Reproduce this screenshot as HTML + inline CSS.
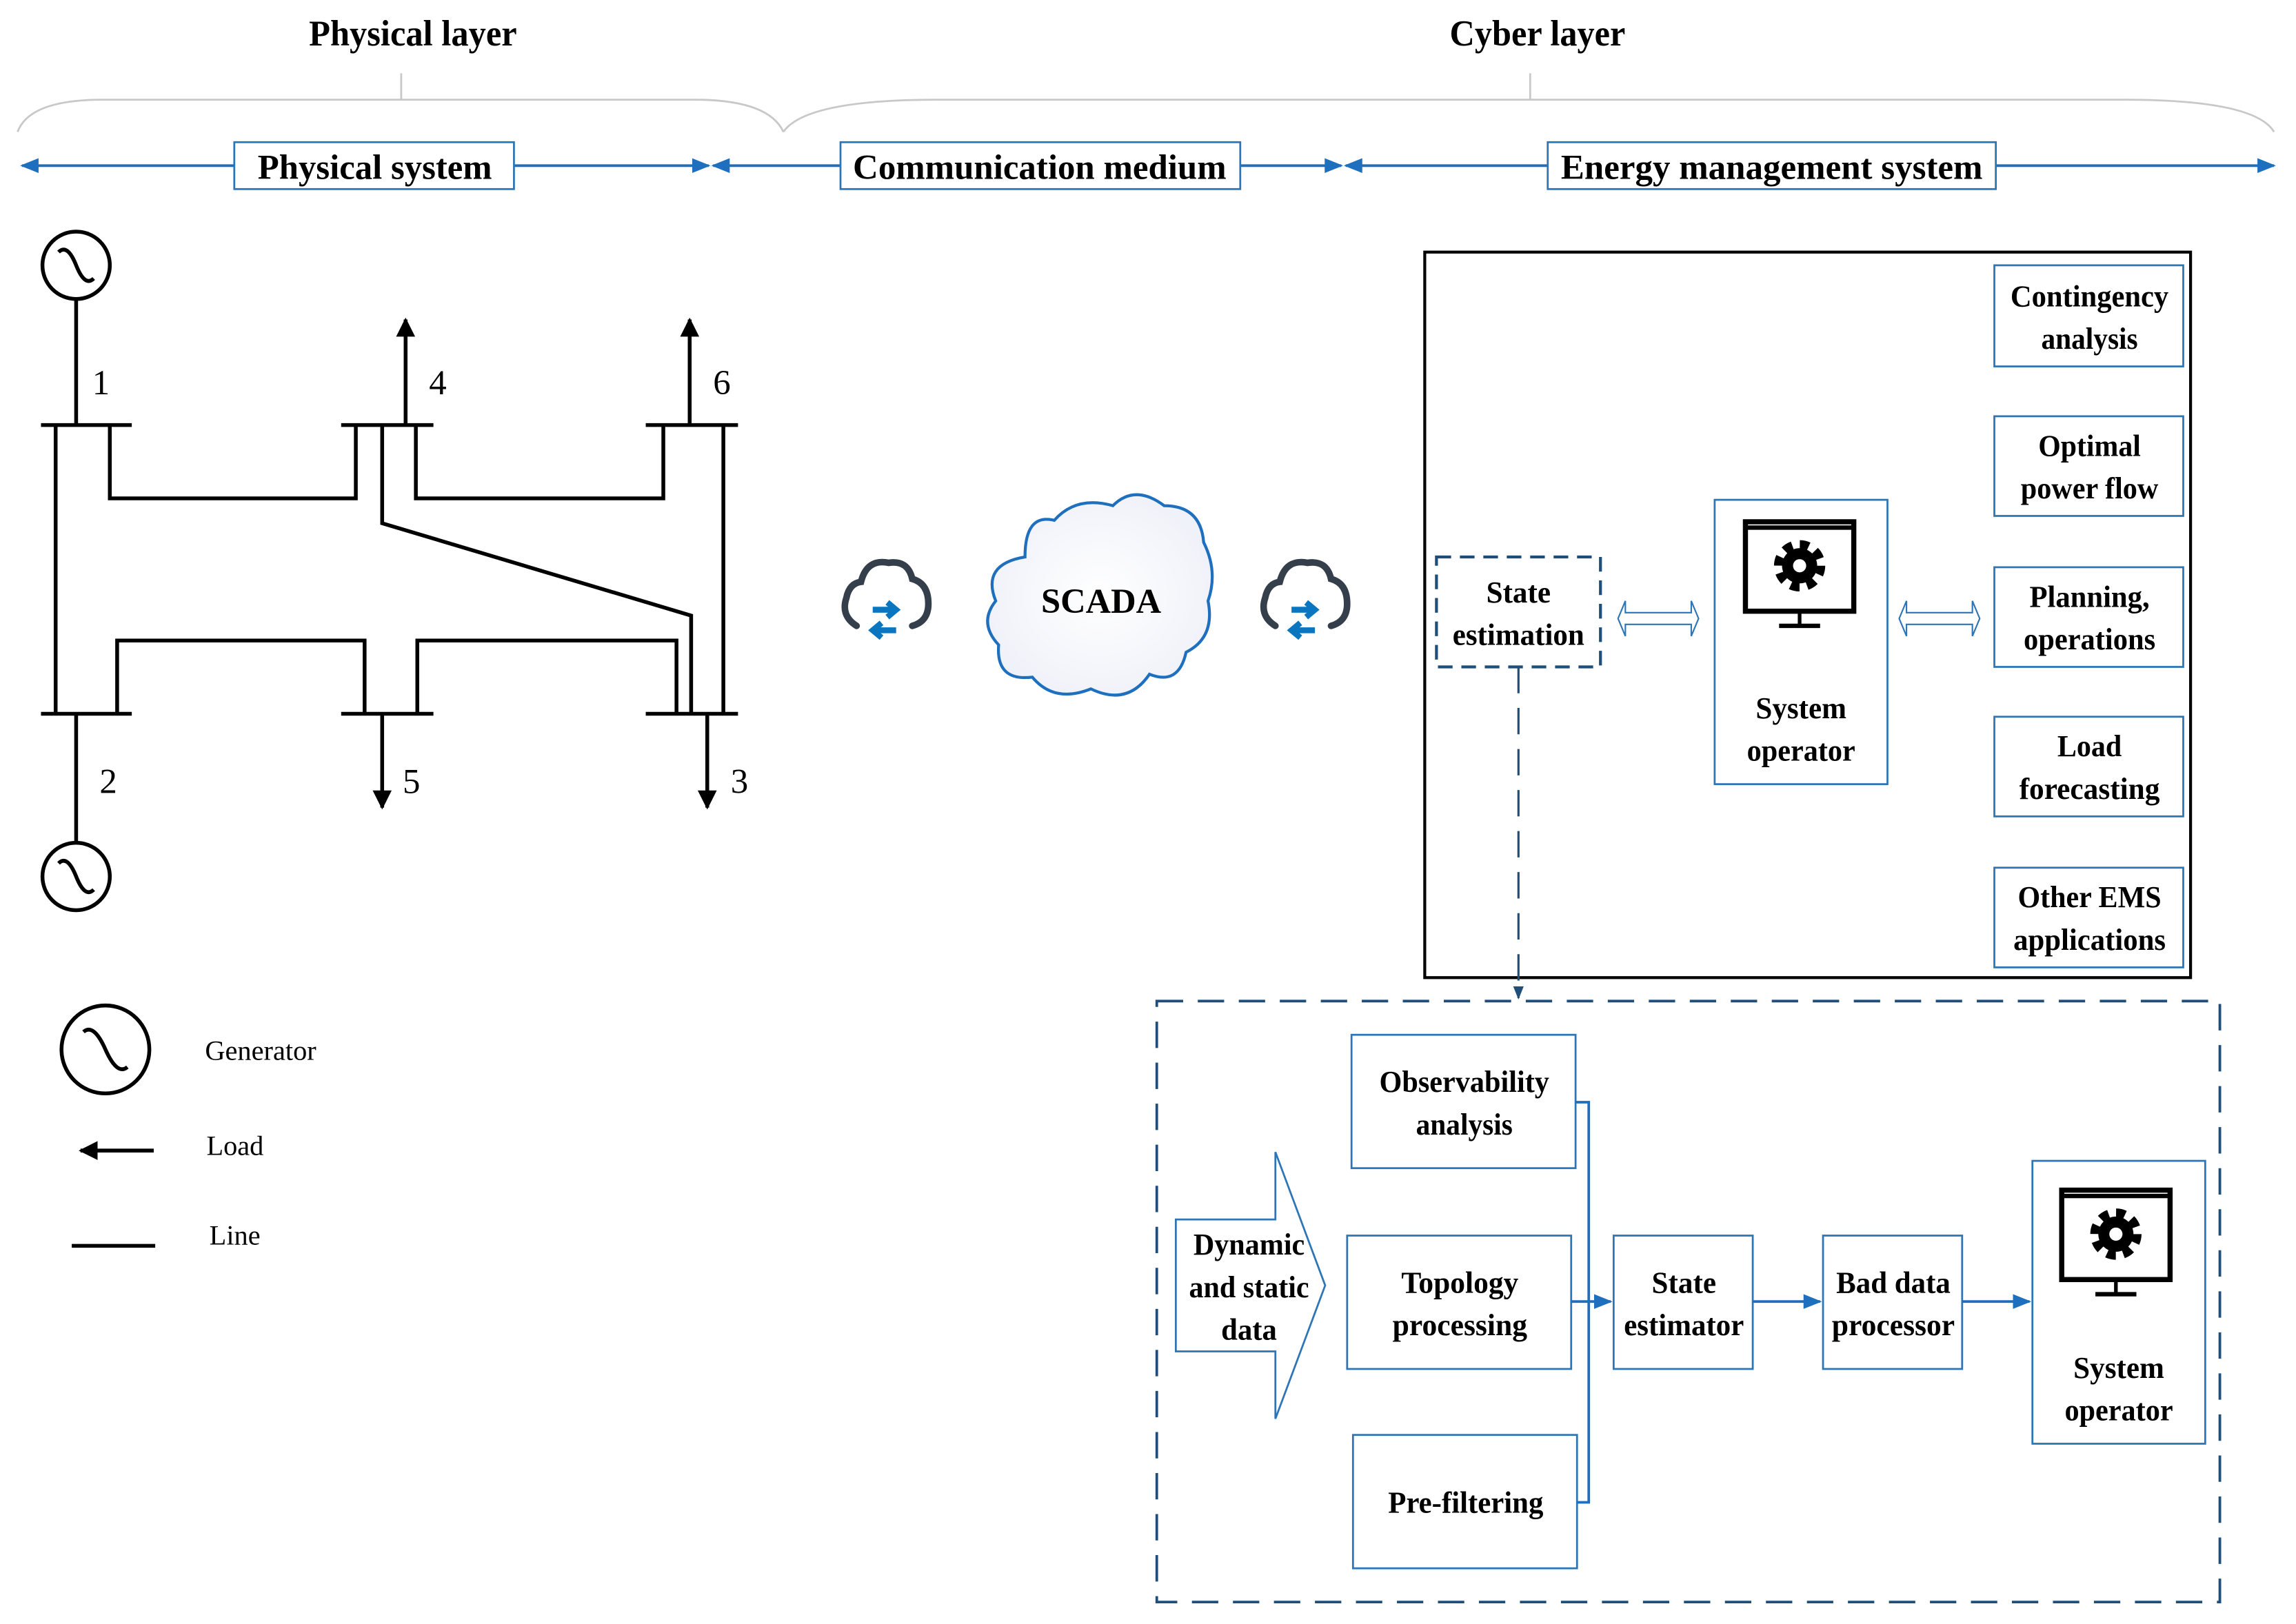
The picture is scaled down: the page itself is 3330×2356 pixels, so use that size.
<!DOCTYPE html>
<html><head><meta charset="utf-8"><style>html,body{margin:0;padding:0;background:#fff}svg{display:block}</style></head><body>
<svg width="3330" height="2356" viewBox="0 0 1568 1108" preserveAspectRatio="none" xmlns="http://www.w3.org/2000/svg" font-family="'Liberation Serif', serif">
<defs>
<marker id="ab" viewBox="0 0 10 10" refX="9" refY="5" markerWidth="7" markerHeight="7" orient="auto-start-reverse"><path d="M0,1 L10,5 L0,9 z" fill="#1f6fbf"/></marker>
<marker id="ak" viewBox="0 0 10 10" refX="9" refY="5" markerWidth="5" markerHeight="5" orient="auto-start-reverse"><path d="M0,0 L10,5 L0,10 z" fill="#000"/></marker>
<marker id="ad" viewBox="0 0 10 10" refX="9" refY="5" markerWidth="6" markerHeight="6" orient="auto"><path d="M0,1 L10,5 L0,9 z" fill="#1f4e79"/></marker>
<radialGradient id="cg" cx="0.5" cy="0.5" r="0.6"><stop offset="0" stop-color="#fff"/><stop offset="1" stop-color="#eef0f8"/></radialGradient>
</defs>
<g font-size="25" font-weight="bold" text-anchor="middle">
<text x="282" y="31" textLength="142" lengthAdjust="spacingAndGlyphs">Physical layer</text>
<text x="1050" y="31" textLength="120" lengthAdjust="spacingAndGlyphs">Cyber layer</text>
</g>
<g fill="none" stroke="#c8c8c8" stroke-width="1.3">
<path d="M12,90 Q20,68 70,68 L474,68 Q525,68 535,90"/>
<path d="M535,90 Q550,68 640,68 L1450,68 Q1540,68 1553,90"/>
<line x1="274" y1="50" x2="274" y2="68"/>
<line x1="1045" y1="50" x2="1045" y2="68"/>
</g>
<g stroke="#1f6fbf" stroke-width="1.8" fill="none">
<line x1="15" y1="113" x2="484" y2="113" marker-start="url(#ab)" marker-end="url(#ab)"/>
<line x1="487" y1="113" x2="916" y2="113" marker-start="url(#ab)" marker-end="url(#ab)"/>
<line x1="919" y1="113" x2="1553" y2="113" marker-start="url(#ab)" marker-end="url(#ab)"/>
</g>
<g fill="#fff" stroke="#2e75b6" stroke-width="1.3">
<rect x="160" y="97" width="191" height="32"/>
<rect x="574" y="97" width="273" height="32"/>
<rect x="1057" y="97" width="306" height="32"/>
</g>
<g font-size="24" font-weight="bold" text-anchor="middle">
<text x="256" y="122" textLength="160" lengthAdjust="spacingAndGlyphs">Physical system</text>
<text x="710" y="122" textLength="255" lengthAdjust="spacingAndGlyphs">Communication medium</text>
<text x="1210" y="122" textLength="288" lengthAdjust="spacingAndGlyphs">Energy management system</text>
</g>
<g stroke="#000" stroke-width="2.6" fill="none">
<circle cx="52" cy="181" r="23"/>
<path d="M40,172 Q46,166 52,181 Q58,196 64,190"/>
<line x1="52" y1="204" x2="52" y2="290"/>
<circle cx="52" cy="598" r="23"/>
<path d="M40,589 Q46,583 52,598 Q58,613 64,607"/>
<line x1="52" y1="487" x2="52" y2="575"/>
<line x1="28" y1="290" x2="90" y2="290"/>
<line x1="233" y1="290" x2="296" y2="290"/>
<line x1="441" y1="290" x2="504" y2="290"/>
<line x1="28" y1="487" x2="90" y2="487"/>
<line x1="233" y1="487" x2="296" y2="487"/>
<line x1="441" y1="487" x2="504" y2="487"/>
<line x1="38" y1="290" x2="38" y2="487"/>
<polyline points="75,290 75,340 243,340 243,290"/>
<polyline points="284,290 284,340 453,340 453,290"/>
<polyline points="261,290 261,357 472,420 472,487"/>
<line x1="494" y1="290" x2="494" y2="487"/>
<polyline points="80,487 80,437 249,437 249,487"/>
<polyline points="285,487 285,437 462,437 462,487"/>
<line x1="277" y1="290" x2="277" y2="218" marker-end="url(#ak)"/>
<line x1="471" y1="290" x2="471" y2="218" marker-end="url(#ak)"/>
<line x1="261" y1="487" x2="261" y2="551" marker-end="url(#ak)"/>
<line x1="483" y1="487" x2="483" y2="551" marker-end="url(#ak)"/>
<circle cx="72" cy="716" r="30"/>
<path d="M57,704 Q64,698 72,716 Q80,734 87,728"/>
<line x1="105" y1="785" x2="55" y2="785" marker-end="url(#ak)"/>
<line x1="49" y1="850" x2="106" y2="850"/>
</g>
<g font-size="24">
<text x="63" y="269">1</text><text x="68" y="541">2</text><text x="293" y="269">4</text><text x="487" y="269">6</text>
<text x="275" y="541">5</text><text x="499" y="541">3</text>
</g>
<g font-size="19">
<text x="140" y="723" textLength="76" lengthAdjust="spacingAndGlyphs">Generator</text><text x="141" y="788">Load</text><text x="143" y="849">Line</text>
</g>
<g stroke="#1f6fbf" stroke-width="2" fill="url(#cg)">
<path d="M700,380 Q700,350 720,355 Q735,338 760,345 Q775,330 795,345 Q820,345 822,370 Q832,390 825,410 Q830,435 810,445 Q805,468 785,460 Q770,482 745,470 Q720,480 705,462 Q680,465 682,440 Q668,425 680,410 Q670,385 700,380 z"/>
</g>
<text x="752" y="418" font-size="24" font-weight="bold" text-anchor="middle" textLength="82" lengthAdjust="spacingAndGlyphs">SCADA</text>
<g>
<path d="M585,427 Q574,420 578,408 Q580,398 588,397 Q592,381 607,384 Q620,382 623,395 Q634,398 634,412 Q634,424 623,427" fill="none" stroke="#343f4b" stroke-width="4.5" stroke-linecap="round"/>
<path d="M596,416 L610,416 M606,411 L612,416 L606,421" stroke="#0b76c0" stroke-width="4" fill="none"/>
<path d="M612,430 L598,430 M602,425 L596,430 L602,435" stroke="#0b76c0" stroke-width="4" fill="none"/>
<path d="M871,427 Q860,420 864,408 Q866,398 874,397 Q878,381 893,384 Q906,382 909,395 Q920,398 920,412 Q920,424 909,427" fill="none" stroke="#343f4b" stroke-width="4.5" stroke-linecap="round"/>
<path d="M882,416 L896,416 M892,411 L898,416 L892,421" stroke="#0b76c0" stroke-width="4" fill="none"/>
<path d="M898,430 L884,430 M888,425 L882,430 L888,435" stroke="#0b76c0" stroke-width="4" fill="none"/>
</g>
<rect x="973" y="172" width="523" height="495" fill="none" stroke="#000" stroke-width="2"/>
<g fill="#fff" stroke="#2e75b6" stroke-width="1.3">
<rect x="1362" y="181" width="129" height="69"/>
<rect x="1362" y="284" width="129" height="68"/>
<rect x="1362" y="387" width="129" height="68"/>
<rect x="1362" y="489" width="129" height="68"/>
<rect x="1362" y="592" width="129" height="68"/>
<rect x="1171" y="341" width="118" height="194"/>
</g>
<rect x="981" y="380" width="112" height="75" fill="none" stroke="#1f4e79" stroke-width="2" stroke-dasharray="10,6"/>
<line x1="1037" y1="455" x2="1037" y2="681" stroke="#1f4e79" stroke-width="1.5" stroke-dasharray="18,10" marker-end="url(#ad)"/>
<g fill="#fff" stroke="#2e75b6" stroke-width="1">
<path d="M1105,422 L1110,410 L1110,418 L1155,418 L1155,410 L1160,422 L1155,434 L1155,426 L1110,426 L1110,434 z"/>
<path d="M1297,422 L1302,410 L1302,418 L1347,418 L1347,410 L1352,422 L1347,434 L1347,426 L1302,426 L1302,434 z"/>
</g>
<g font-size="21" text-anchor="middle" font-weight="bold">
<text x="1427" y="209" textLength="108" lengthAdjust="spacingAndGlyphs">Contingency</text><text x="1427" y="238" textLength="66" lengthAdjust="spacingAndGlyphs">analysis</text>
<text x="1427" y="311" textLength="70" lengthAdjust="spacingAndGlyphs">Optimal</text><text x="1427" y="340" textLength="94" lengthAdjust="spacingAndGlyphs">power flow</text>
<text x="1427" y="414" textLength="82" lengthAdjust="spacingAndGlyphs">Planning,</text><text x="1427" y="443" textLength="90" lengthAdjust="spacingAndGlyphs">operations</text>
<text x="1427" y="516" textLength="44" lengthAdjust="spacingAndGlyphs">Load</text><text x="1427" y="545" textLength="96" lengthAdjust="spacingAndGlyphs">forecasting</text>
<text x="1427" y="619" textLength="98" lengthAdjust="spacingAndGlyphs">Other EMS</text><text x="1427" y="648" textLength="104" lengthAdjust="spacingAndGlyphs">applications</text>
<text x="1037" y="411" textLength="44" lengthAdjust="spacingAndGlyphs">State</text><text x="1037" y="440" textLength="90" lengthAdjust="spacingAndGlyphs">estimation</text>
<text x="1230" y="490" textLength="62" lengthAdjust="spacingAndGlyphs">System</text><text x="1230" y="519" textLength="74" lengthAdjust="spacingAndGlyphs">operator</text>
</g>
<g>
<rect x="1192" y="356" width="74" height="61" fill="#fff" stroke="#000" stroke-width="3.5"/>
<line x1="1192" y1="360" x2="1266" y2="360" stroke="#000" stroke-width="3"/>
<line x1="1229" y1="417" x2="1229" y2="426" stroke="#000" stroke-width="2.5"/>
<line x1="1215" y1="427" x2="1243" y2="427" stroke="#000" stroke-width="3"/>
<circle cx="1229" cy="386" r="14" fill="none" stroke="#000" stroke-width="7" stroke-dasharray="6,5"/>
<circle cx="1229" cy="386" r="12" fill="#000"/>
<circle cx="1229" cy="386" r="4.5" fill="#fff"/>
</g>
<g transform="translate(216,456)">
<rect x="1192" y="356" width="74" height="61" fill="#fff" stroke="#000" stroke-width="3.5"/>
<line x1="1192" y1="360" x2="1266" y2="360" stroke="#000" stroke-width="3"/>
<line x1="1229" y1="417" x2="1229" y2="426" stroke="#000" stroke-width="2.5"/>
<line x1="1215" y1="427" x2="1243" y2="427" stroke="#000" stroke-width="3"/>
<circle cx="1229" cy="386" r="14" fill="none" stroke="#000" stroke-width="7" stroke-dasharray="6,5"/>
<circle cx="1229" cy="386" r="12" fill="#000"/>
<circle cx="1229" cy="386" r="4.5" fill="#fff"/>
</g>
<rect x="790" y="683" width="726" height="410" fill="none" stroke="#1f4e79" stroke-width="1.8" stroke-dasharray="18,10"/>
<g fill="#fff" stroke="#2e75b6" stroke-width="1.3">
<rect x="923" y="706" width="153" height="91"/>
<rect x="920" y="843" width="153" height="91"/>
<rect x="924" y="979" width="153" height="91"/>
<rect x="1102" y="843" width="95" height="91"/>
<rect x="1245" y="843" width="95" height="91"/>
<rect x="1388" y="792" width="118" height="193" fill="none"/>
<path d="M803,832 L871,832 L871,786 L905,877 L871,968 L871,922 L803,922 z"/>
</g>
<g stroke="#1f6fbf" stroke-width="1.8" fill="none">
<polyline points="1076,752 1085,752 1085,1025 1077,1025"/>
<line x1="1073" y1="888" x2="1100" y2="888" marker-end="url(#ab)"/>
<line x1="1197" y1="888" x2="1243" y2="888" marker-end="url(#ab)"/>
<line x1="1340" y1="888" x2="1386" y2="888" marker-end="url(#ab)"/>
</g>
<g font-size="21" text-anchor="middle" font-weight="bold">
<text x="1000" y="745" textLength="116" lengthAdjust="spacingAndGlyphs">Observability</text><text x="1000" y="774" textLength="66" lengthAdjust="spacingAndGlyphs">analysis</text>
<text x="997" y="882" textLength="80" lengthAdjust="spacingAndGlyphs">Topology</text><text x="997" y="911" textLength="92" lengthAdjust="spacingAndGlyphs">processing</text>
<text x="1001" y="1032" textLength="106" lengthAdjust="spacingAndGlyphs">Pre-filtering</text>
<text x="1150" y="882" textLength="44" lengthAdjust="spacingAndGlyphs">State</text><text x="1150" y="911" textLength="82" lengthAdjust="spacingAndGlyphs">estimator</text>
<text x="1293" y="882" textLength="78" lengthAdjust="spacingAndGlyphs">Bad data</text><text x="1293" y="911" textLength="84" lengthAdjust="spacingAndGlyphs">processor</text>
<text x="1447" y="940" textLength="62" lengthAdjust="spacingAndGlyphs">System</text><text x="1447" y="969" textLength="74" lengthAdjust="spacingAndGlyphs">operator</text>
<text x="853" y="856" textLength="76" lengthAdjust="spacingAndGlyphs">Dynamic</text><text x="853" y="885" textLength="82" lengthAdjust="spacingAndGlyphs">and static</text><text x="853" y="914" textLength="38" lengthAdjust="spacingAndGlyphs">data</text>
</g>
</svg>
</body></html>
